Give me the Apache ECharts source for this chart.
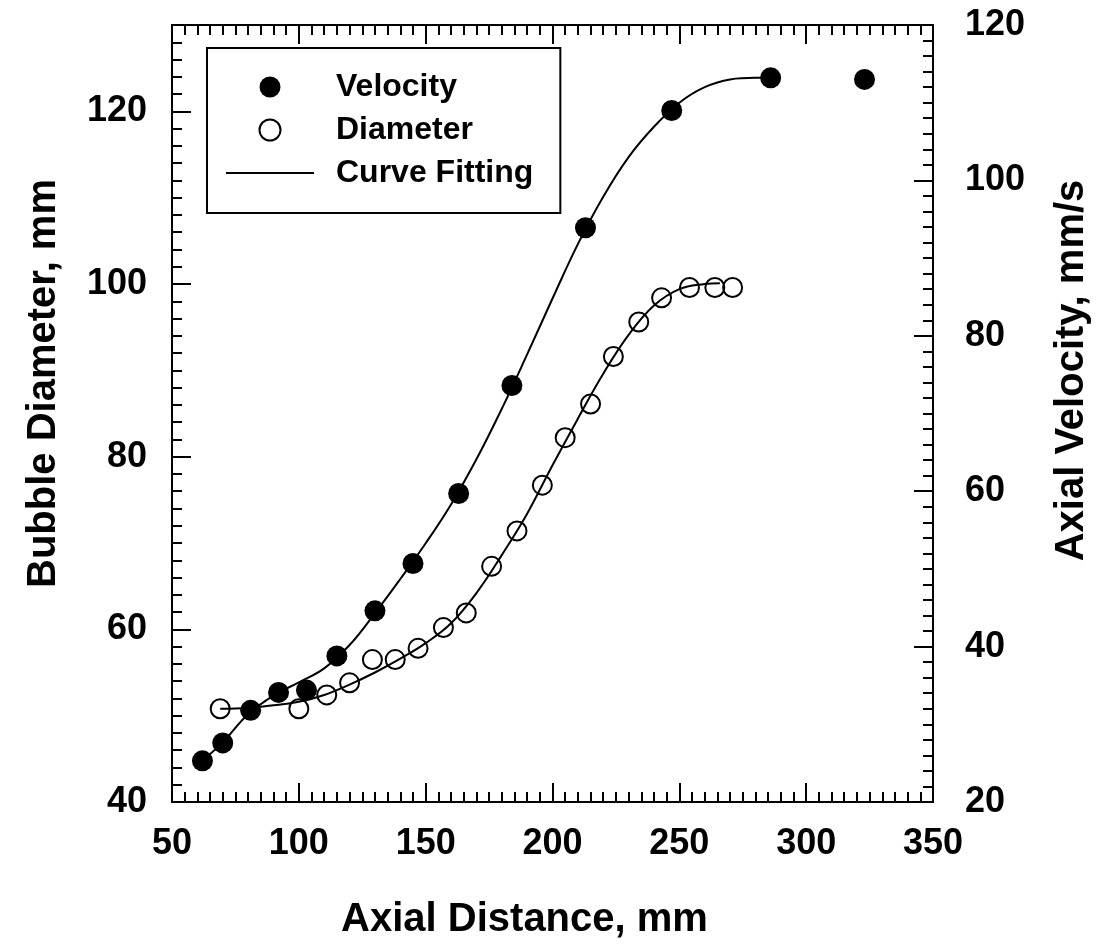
<!DOCTYPE html>
<html>
<head>
<meta charset="utf-8">
<title>Bubble diameter and axial velocity</title>
<script src="https://cdn.jsdelivr.net/npm/echarts@6/dist/echarts.min.js"></script>
<style>
  html, body { margin: 0; padding: 0; background: #fff; }
  #chart { width: 1117px; height: 948px; }
</style>
</head>
<body>
<div id="chart"></div>
<script>
const velocityX = [62, 70, 81, 92, 103, 115, 130, 145, 163, 184, 213, 247, 286, 323];
const velocityY = [25.3, 27.6, 31.8, 34.1, 34.4, 38.8, 44.6, 50.7, 59.7, 73.6, 93.9, 109.0, 113.2, 113.0];

const diameterX = [69, 100, 111, 120, 129, 138, 147, 157, 166, 176, 186, 196, 205, 215, 224, 234, 243, 254, 264, 271];
const diameterY = [50.8, 50.8, 52.4, 53.8, 56.5, 56.5, 57.8, 60.2, 61.9, 67.3, 71.4, 76.7, 82.2, 86.1, 91.6, 95.6, 98.4, 99.6, 99.6, 99.6];

// fitted curves
const velFitX = [62, 70, 80, 90, 100, 110, 120, 130, 140, 150, 160, 170, 180, 190, 200, 210, 220, 230, 240, 250, 260, 270, 280, 286];
const velFitY = [25.3, 27.7, 31.3, 33.7, 35.4, 37.2, 40.2, 44.3, 48.7, 53.3, 58.3, 64.1, 70.6, 77.6, 84.8, 91.8, 97.9, 103.0, 106.9, 110.0, 112.0, 113.0, 113.2, 113.2];

const diaFitX = [69, 80, 90, 100, 110, 120, 130, 140, 150, 160, 170, 180, 190, 200, 210, 220, 230, 240, 250, 260, 266];
const diaFitY = [50.8, 50.9, 51.2, 51.6, 52.4, 53.6, 55.0, 56.6, 58.4, 60.7, 64.2, 68.6, 73.4, 79.0, 84.4, 89.6, 94.1, 97.5, 99.4, 100.0, 100.1];

const xTicks = [50, 350, 50];     // min, max, interval
const leftTicks = [40, 130, 20];
const rightTicks = [20, 120, 20];

const FONT = '"Liberation Sans", Arial, sans-serif';
const INK = '#000';

function pairs(xs, ys) {
  return xs.map((x, i) => [x, ys[i]]);
}

const lineAxis = { show: true, onZero: false, lineStyle: { color: INK, width: 2 } };
const majorTick = { show: true, inside: true, length: 19, lineStyle: { color: INK, width: 2 } };
const minorTick = { show: true, splitNumber: 10, length: 10, lineStyle: { color: INK, width: 2 } };
const labelStyle = { color: INK, fontSize: 36, fontWeight: 'bold', fontFamily: FONT };
const nameStyle = { color: INK, fontSize: 40, fontWeight: 'bold', fontFamily: FONT };

const chart = echarts.init(document.getElementById('chart'));

chart.setOption({
  animation: false,
  backgroundColor: '#fff',
  grid: { left: 172, right: 184, top: 25, bottom: 146 },
  legend: {
    orient: 'vertical',
    left: 207,
    top: 48,
    padding: [23, 27, 24, 18],
    borderColor: INK,
    borderWidth: 2,
    itemWidth: 88,
    itemHeight: 21,
    itemGap: 11,
    textStyle: { color: INK, fontSize: 32, fontWeight: 'bold', fontFamily: FONT, padding: [0, 0, 0, 17] },
    data: [
      { name: 'Velocity', icon: 'circle' },
      { name: 'Diameter', icon: 'circle' },
      { name: 'Curve Fitting', itemStyle: { opacity: 0 } },
    ],
  },
  xAxis: [
    {
      type: 'value',
      position: 'bottom',
      min: xTicks[0],
      max: xTicks[1],
      interval: xTicks[2],
      name: 'Axial Distance, mm',
      nameLocation: 'middle',
      nameGap: 98,
      nameTextStyle: Object.assign({ padding: [0, 56, 0, 0] }, nameStyle),
      axisLine: lineAxis,
      axisTick: majorTick,
      minorTick: minorTick,
      axisLabel: Object.assign({ margin: 24 }, labelStyle),
      splitLine: { show: false },
    },
    {
      type: 'value',
      position: 'top',
      min: xTicks[0],
      max: xTicks[1],
      interval: xTicks[2],
      axisLine: lineAxis,
      axisTick: majorTick,
      minorTick: minorTick,
      axisLabel: { show: false },
      splitLine: { show: false },
    },
  ],
  yAxis: [
    {
      type: 'value',
      position: 'left',
      min: leftTicks[0],
      max: leftTicks[1],
      interval: leftTicks[2],
      name: 'Bubble Diameter, mm',
      nameLocation: 'middle',
      nameGap: 108,
      nameTextStyle: Object.assign({ padding: [0, 0, 0, 60] }, nameStyle),
      axisLine: lineAxis,
      axisTick: majorTick,
      axisLabel: Object.assign({ margin: 25, showMaxLabel: false }, labelStyle),
      splitLine: { show: false },
    },
    {
      type: 'value',
      position: 'right',
      min: rightTicks[0],
      max: rightTicks[1],
      interval: rightTicks[2],
      name: 'Axial Velocity, mm/s',
      nameLocation: 'middle',
      nameGap: 119,
      nameTextStyle: Object.assign({ padding: [0, 0, 0, 86] }, nameStyle),
      axisLine: lineAxis,
      axisTick: majorTick,
      minorTick: minorTick,
      axisLabel: Object.assign({ margin: 32 }, labelStyle),
      splitLine: { show: false },
    },
    {
      // minor ticks of the left scale, every 2 mm
      type: 'value',
      position: 'left',
      min: leftTicks[0],
      max: leftTicks[1],
      interval: 2,
      axisLine: { show: false },
      axisTick: { show: true, inside: true, length: 10, lineStyle: { color: INK, width: 2 } },
      axisLabel: { show: false },
      splitLine: { show: false },
    },
  ],
  series: [
    {
      name: 'Curve Fitting',
      type: 'line',
      yAxisIndex: 1,
      data: pairs(velFitX, velFitY),
      smooth: 0.4,
      symbol: 'none',
      lineStyle: { color: INK, width: 2 },
      itemStyle: { color: INK },
      z: 2,
    },
    {
      name: 'Curve Fitting',
      type: 'line',
      yAxisIndex: 0,
      data: pairs(diaFitX, diaFitY),
      smooth: 0.4,
      symbol: 'none',
      lineStyle: { color: INK, width: 2 },
      itemStyle: { color: INK },
      z: 2,
    },
    {
      name: 'Velocity',
      type: 'scatter',
      yAxisIndex: 1,
      data: pairs(velocityX, velocityY),
      symbol: 'circle',
      symbolSize: 21,
      itemStyle: { color: INK, opacity: 1 },
      z: 3,
    },
    {
      name: 'Diameter',
      type: 'scatter',
      yAxisIndex: 0,
      data: pairs(diameterX, diameterY),
      symbol: 'circle',
      symbolSize: 19,
      itemStyle: { color: 'rgba(255,255,255,0)', borderColor: INK, borderWidth: 2, opacity: 1 },
      z: 3,
    },
  ],
});
</script>
</body>
</html>
